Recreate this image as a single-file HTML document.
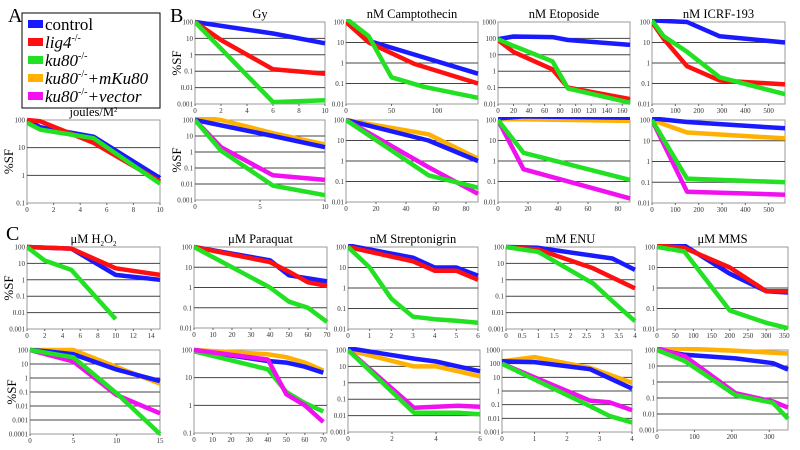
<!DOCTYPE html>
<html><head><meta charset="utf-8"><style>
body{margin:0;background:#fff;width:800px;height:450px;overflow:hidden;font-family:"Liberation Serif",serif}
svg{display:block}
</style></head><body>
<svg id="fig" width="800" height="450" xmlns="http://www.w3.org/2000/svg">
<g>
<rect x="22" y="13" width="138" height="95" fill="#fff" stroke="#000" stroke-width="1"/>
<rect x="28" y="20" width="15" height="8" fill="#1a1aff"/><text x="45" y="30" font-size="17">control</text>
<rect x="28" y="38" width="15" height="8" fill="#ff1010"/><text x="45" y="48" font-size="17" font-style="italic">lig4<tspan font-size="10" dy="-7" font-style="normal">-/-</tspan></text>
<rect x="28" y="56" width="15" height="8" fill="#22e022"/><text x="45" y="66" font-size="17" font-style="italic">ku80<tspan font-size="10" dy="-7" font-style="normal">-/-</tspan></text>
<rect x="28" y="74" width="15" height="8" fill="#ffb000"/><text x="45" y="84" font-size="17" font-style="italic">ku80<tspan font-size="10" dy="-7" font-style="normal">-/-</tspan><tspan dy="7">+mKu80</tspan></text>
<rect x="28" y="92" width="15" height="8" fill="#f010f0"/><text x="45" y="102" font-size="17" font-style="italic">ku80<tspan font-size="10" dy="-7" font-style="normal">-/-</tspan><tspan dy="7">+vector</tspan></text>
</g>
<text x="8" y="22" font-size="20">A</text>
<text x="170" y="22" font-size="20">B</text>
<text x="6" y="240" font-size="20">C</text>
</svg>
<script>
// ---- data (x, %SF) per series ----
const uvControl=[[0,100],[1,55],[5,25],[10,0.8]];
const uvLig4=[[0,100],[1,90],[5,15],[10,0.6]];
const uvKu80=[[0,80],[1,45],[5,22],[10,0.5]];
const gyControl=[[0,100],[6,20],[10,5]];
const gyLig4=[[0,100],[2,8],[6,0.13],[10,0.07]];
const gyKu80=[[0,100],[6,0.0013],[10,0.0017]];
const campControl=[[0,100],[25,12],[145,0.3]];
const campLig4=[[0,100],[25,10],[75,0.9],[145,0.1]];
const campKu80=[[0,150],[25,20],[50,0.2],[85,0.07],[145,0.02]];
const etoControl=[[0,90],[20,130],[70,120],[90,80],[170,40]];
const etoLig4=[[0,80],[20,15],[70,1.3],[90,0.1],[170,0.02]];
const etoKu80=[[0,90],[20,35],[70,4],[90,0.09],[170,0.012]];
const icrfControl=[[0,120],[150,100],[290,20],[570,10]];
const icrfLig4=[[0,100],[50,15],[150,0.7],[290,0.14],[570,0.09]];
const icrfKu80=[[0,120],[50,20],[150,3.5],[290,0.2],[570,0.03]];
const gy2Control=[[0,100],[6,10],[10,2]];
const gy2MKu80=[[0,150],[2,100],[6,15],[10,3]];
const gy2Vector=[[0,100],[2,2],[6,0.035],[10,0.018]];
const gy2Ku80=[[0,100],[2,1.2],[6,0.008],[10,0.002]];
const camp2Control=[[0,100],[55,10],[88,1]];
const camp2MKu80=[[0,100],[55,20],[88,1.3]];
const camp2Vector=[[0,100],[55,0.5],[88,0.025]];
const camp2Ku80=[[0,100],[55,0.2],[88,0.05]];
const eto2Control=[[0,120],[17,150],[88,130]];
const eto2MKu80=[[0,110],[17,110],[88,90]];
const eto2Ku80=[[0,100],[17,2.5],[88,0.12]];
const eto2Vector=[[0,100],[17,0.4],[88,0.015]];
const icrf2Control=[[0,120],[150,80],[570,40]];
const icrf2MKu80=[[0,100],[150,25],[570,13]];
const icrf2Ku80=[[0,100],[150,0.15],[570,0.1]];
const icrf2Vector=[[0,100],[150,0.035],[570,0.025]];
const h2o2Control=[[0,100],[5,80],[10,2],[15,1]];
const h2o2Lig4=[[0,100],[5,80],[10,5],[15,2]];
const h2o2Ku80=[[0,100],[2,15],[5,4],[10,0.004]];
const paraControl=[[0,100],[40,22],[50,4],[70,2]];
const paraLig4=[[0,100],[40,18],[50,6],[60,1.8],[70,1.2]];
const paraKu80=[[0,100],[40,1],[50,0.2],[60,0.1],[70,0.02]];
const strepControl=[[0,120],[3,30],[4,10],[5,10],[6,4]];
const strepLig4=[[0,100],[3,20],[4,7],[5,7],[6,2.5]];
const strepKu80=[[0,100],[1,10],[2,0.3],[3,0.04],[4,0.03],[5,0.025],[6,0.02]];
const enuControl=[[0,100],[1,90],[3.3,20],[4,4]];
const enuLig4=[[0,100],[1,70],[2.7,5],[4,0.3]];
const enuKu80=[[0,100],[1,50],[2.7,0.6],[3.3,0.05],[4,0.003]];
const mmsControl=[[0,120],[75,120],[200,5],[300,0.7],[360,0.6]];
const mmsLig4=[[0,120],[75,90],[200,10],[300,0.7],[360,0.7]];
const mmsKu80=[[0,100],[75,60],[200,0.08],[300,0.02],[360,0.011]];
const h2o22Control=[[0,100],[2,80],[5,50],[10,4],[15,0.6]];
const h2o22MKu80=[[0,100],[5,100],[10,6],[15,0.4]];
const h2o22Vector=[[0,100],[5,15],[10,0.06],[15,0.003]];
const h2o22Ku80=[[0,100],[5,30],[10,0.08],[15,0.0001]];
const para2Control=[[0,100],[40,40],[50,35],[60,25],[70,15]];
const para2MKu80=[[0,100],[40,70],[50,55],[60,35],[70,18]];
const para2Vector=[[0,100],[40,45],[50,2.5],[60,1],[70,0.25]];
const para2Ku80=[[0,90],[40,20],[50,3],[60,1.2],[70,0.6]];
const strep2Control=[[0,130],[3,30],[4,20],[5,10],[6,5]];
const strep2MKu80=[[0,100],[3,10],[4,10],[5,5],[6,2.5]];
const strep2Vector=[[0,100],[3,0.03],[4,0.035],[5,0.04],[6,0.035]];
const strep2Ku80=[[0,100],[3,0.015],[4,0.015],[5,0.015],[6,0.012]];
const enu2Control=[[0,150],[1,130],[2.7,40],[4,1.5]];
const enu2MKu80=[[0,150],[1,300],[2.7,50],[4,4]];
const enu2Vector=[[0,100],[1,10],[2.7,0.2],[3.3,0.15],[4,0.04]];
const enu2Ku80=[[0,100],[1,7],[2.7,0.08],[3.3,0.015],[4,0.005]];
const mms2Control=[[0,100],[75,50],[210,30],[310,15],[350,6]];
const mms2MKu80=[[0,130],[75,120],[210,90],[350,60]];
const mms2Vector=[[0,130],[75,40],[210,0.2],[310,0.06],[350,0.025]];
const mms2Ku80=[[0,100],[75,20],[210,0.15],[310,0.05],[350,0.005]];
const yTickLabels=["0.0001","0.001","0.01","0.1","1","10","100","1000"];

const C={b:"#1a1aff",r:"#ff1010",g:"#22e022",o:"#ffb000",m:"#f010f0"};
const svg=document.getElementById('fig');
const NS="http://www.w3.org/2000/svg";
function mk(t,a,p){const e=document.createElementNS(NS,t);for(const k in a)e.setAttribute(k,a[k]);(p||svg).appendChild(e);return e;}
function panel(name,box,xd,xt,ylo,yhi,title,ylab,series){
  const [x0,y0,x1,y1]=box;
  const g=mk('g',{});
  
  
  const sx=v=>x0+(v-xd[0])/(xd[1]-xd[0])*(x1-x0);
  const ly0=Math.log10(ylo),ly1=Math.log10(yhi);
  const sy=v=>y1-(Math.log10(v)-ly0)/(ly1-ly0)*(y1-y0);
  mk('rect',{x:x0,y:y0,width:x1-x0,height:y1-y0,fill:'#fff',stroke:'#999','stroke-width':1},g);
  for(let e=Math.ceil(ly0);e<=Math.floor(ly1);e++){
    const y=sy(Math.pow(10,e));
    if(e>ly0&&e<ly1) mk('line',{x1:x0,x2:x1,y1:y,y2:y,stroke:'#444','stroke-width':1},g);
    const t=mk('text',{x:x0-2,y:y+2.5,'font-size':7,'text-anchor':'end',fill:'#333'},g);
    t.textContent=yTickLabels[e+4];
  }
  xt.forEach(v=>{const x=sx(v);mk('line',{x1:x,x2:x,y1:y1,y2:y1+2,stroke:'#666'},g);
    const t=mk('text',{x:x,y:y1+9,'font-size':7,'text-anchor':'middle',fill:'#333'},g);t.textContent=v;});
  if(title){const t=mk('text',{x:(x0+x1)/2,y:y0-4,'font-size':12.5,'text-anchor':'middle'},g);t.innerHTML=title;
    
    }
  if(ylab){const t=mk('text',{x:0,y:0,'font-size':13,'text-anchor':'middle',transform:`translate(${x0-14},${(y0+y1)/2}) rotate(-90)`},g);t.textContent='%SF';
    
    }
  const cp='c'+name;const cl=mk('clipPath',{id:cp},g);mk('rect',{x:x0,y:y0-3,width:x1-x0+2,height:y1-y0+5},cl);
  series.forEach(([key,col,pts])=>{
    const p=mk('polyline',{points:pts.map(q=>sx(q[0]).toFixed(1)+','+sy(q[1]).toFixed(1)).join(' '),fill:'none',stroke:C[col],'stroke-width':4.5,'stroke-linejoin':'round','clip-path':`url(#${cp})`},g);
    
    
  });
}
panel('uv',[27,120,160,203],[0,10],[0,2,4,6,8,10],0.1,100,'joules/M<tspan font-size="7" dy="-4">2</tspan>',1,
 [['control','b',uvControl],['lig4','r',uvLig4],['ku80','g',uvKu80]]);
panel('gy',[195,22,325,104],[0,10],[0,2,4,6,8,10],0.001,100,'Gy',1,
 [['control','b',gyControl],['lig4','r',gyLig4],['ku80','g',gyKu80]]);
panel('camptothecin',[346,22,478,104],[0,145],[0,50,100],0.01,100,'nM Camptothecin',0,
 [['control','b',campControl],['lig4','r',campLig4],['ku80','g',campKu80]]);
panel('etoposide',[498,22,630,104],[0,170],[0,20,40,60,80,100,120,140,160],0.01,1000,'nM Etoposide',0,
 [['control','b',etoControl],['lig4','r',etoLig4],['ku80','g',etoKu80]]);
panel('icrf',[652,22,785,104],[0,570],[0,100,200,300,400,500],0.01,100,'nM ICRF-193',0,
 [['control','b',icrfControl],['lig4','r',icrfLig4],['ku80','g',icrfKu80]]);
panel('gy2',[195,120,325,200],[0,10],[0,5,10],0.001,100,'',1,
 [['mku80','o',gy2MKu80],['control','b',gy2Control],['vector','m',gy2Vector],['ku80','g',gy2Ku80]]);
panel('camptothecin2',[346,120,478,202],[0,88],[0,20,40,60,80],0.01,100,'',0,
 [['mku80','o',camp2MKu80],['control','b',camp2Control],['vector','m',camp2Vector],['ku80','g',camp2Ku80]]);
panel('etoposide2',[498,120,630,202],[0,88],[0,20,40,60,80],0.01,100,'',0,
 [['mku80','o',eto2MKu80],['control','b',eto2Control],['vector','m',eto2Vector],['ku80','g',eto2Ku80]]);
panel('icrf2',[652,120,785,203],[0,570],[0,100,200,300,400,500],0.01,100,'',0,
 [['mku80','o',icrf2MKu80],['control','b',icrf2Control],['vector','m',icrf2Vector],['ku80','g',icrf2Ku80]]);
panel('h2o2',[27,247,160,329],[0,15],[0,2,4,6,8,10,12,14],0.001,100,'&#956;M H<tspan font-size="7" dy="3">2</tspan><tspan dy="-3">O</tspan><tspan font-size="7" dy="3">2</tspan>',1,
 [['control','b',h2o2Control],['lig4','r',h2o2Lig4],['ku80','g',h2o2Ku80]]);
panel('paraquat',[194,247,327,328],[0,70],[0,10,20,30,40,50,60,70],0.01,100,'&#956;M Paraquat',0,
 [['control','b',paraControl],['lig4','r',paraLig4],['ku80','g',paraKu80]]);
panel('streptonigrin',[348,247,478,329],[0,6],[0,1,2,3,4,5,6],0.01,100,'nM Streptonigrin',0,
 [['control','b',strepControl],['lig4','r',strepLig4],['ku80','g',strepKu80]]);
panel('enu',[506,247,635,329],[0,4],[0,0.5,1,1.5,2,2.5,3,3.5,4],0.001,100,'mM ENU',0,
 [['control','b',enuControl],['lig4','r',enuLig4],['ku80','g',enuKu80]]);
panel('mms',[657,247,788,329],[0,360],[0,50,100,150,200,250,300,350],0.01,100,'&#956;M MMS',0,
 [['control','b',mmsControl],['lig4','r',mmsLig4],['ku80','g',mmsKu80]]);
panel('h2o22',[30,350,160,434],[0,15],[0,5,10,15],0.0001,100,'',1,
 [['mku80','o',h2o22MKu80],['control','b',h2o22Control],['vector','m',h2o22Vector],['ku80','g',h2o22Ku80]]);
panel('paraquat2',[194,350,327,433],[0,72],[0,10,20,30,40,50,60,70],0.1,100,'',0,
 [['mku80','o',para2MKu80],['control','b',para2Control],['ku80','g',para2Ku80],['vector','m',para2Vector]]);
panel('streptonigrin2',[348,350,480,432],[0,6],[0,2,4,6],0.001,100,'',0,
 [['mku80','o',strep2MKu80],['control','b',strep2Control],['vector','m',strep2Vector],['ku80','g',strep2Ku80]]);
panel('enu2',[502,350,632,432],[0,4],[0,1,2,3,4],0.001,1000,'',0,
 [['mku80','o',enu2MKu80],['control','b',enu2Control],['vector','m',enu2Vector],['ku80','g',enu2Ku80]]);
panel('mms2',[657,350,788,430],[0,350],[0,100,200,300],0.001,100,'',0,
 [['mku80','o',mms2MKu80],['control','b',mms2Control],['vector','m',mms2Vector],['ku80','g',mms2Ku80]]);
</script>
</body></html>
